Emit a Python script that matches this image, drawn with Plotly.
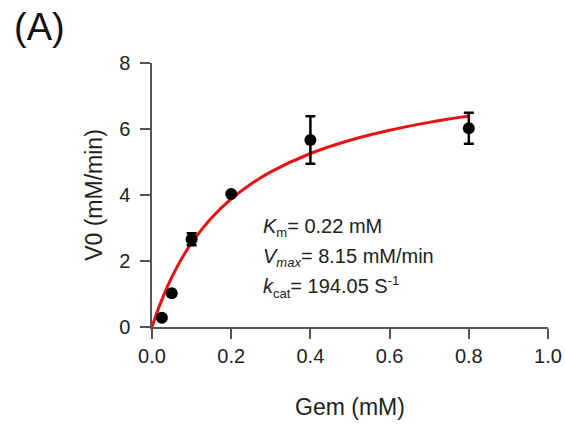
import plotly.graph_objects as go

# Measured data (Gem concentration, mM) vs initial velocity V0 (mM/min)
gem_mM = [0.025, 0.05, 0.1, 0.2, 0.4, 0.8]
v0 = [0.28, 1.02, 2.66, 4.03, 5.67, 6.02]
v0_err = [0.0, 0.0, 0.18, 0.0, 0.72, 0.47]

# Michaelis-Menten fit curve (Km = 0.22 mM, Vmax = 8.15 mM/min)
fit_x = [0, 0.01, 0.02, 0.04, 0.06, 0.08, 0.1, 0.15, 0.2, 0.25, 0.3, 0.4, 0.5, 0.6, 0.7, 0.8]
fit_y = [0, 0.354, 0.679, 1.254, 1.746, 2.173, 2.547, 3.304, 3.881, 4.335, 4.702,
         5.258, 5.660, 5.963, 6.201, 6.392]

x_ticks = [0.0, 0.2, 0.4, 0.6, 0.8, 1.0]
x_ticklabels = ["0.0", "0.2", "0.4", "0.6", "0.8", "1.0"]
y_ticks = [0, 2, 4, 6, 8]
y_ticklabels = ["0", "2", "4", "6", "8"]

FONT = "Liberation Sans, Arial, sans-serif"
AXIS_COLOR = "#555555"
PW, PH = 396, 264  # plot area size in px
L, T = 152, 63     # plot area top-left in px

fig = go.Figure()
fig.add_trace(go.Scatter(
    x=fit_x, y=fit_y, mode="lines", line=dict(color="rgb(236,16,16)", width=3, shape="spline"),
    hoverinfo="skip", showlegend=False))
fig.add_trace(go.Scatter(
    x=gem_mM, y=v0, mode="markers",
    marker=dict(color="black", size=12),
    error_y=dict(type="data", array=v0_err, visible=True, color="black", thickness=2.5, width=5),
    showlegend=False))

fig.update_layout(
    width=565, height=427,
    margin=dict(l=L, r=565 - L - PW, t=T, b=427 - T - PH),
    paper_bgcolor="white", plot_bgcolor="white",
    font=dict(family=FONT, size=20, color="#222222"),
    xaxis=dict(range=[0, 1], tickvals=x_ticks, ticktext=x_ticklabels, automargin=False,
               showgrid=False, zeroline=False, showline=True, linecolor=AXIS_COLOR, linewidth=1.5,
               ticks="outside", ticklen=10, tickwidth=1.5, tickcolor=AXIS_COLOR,
               title=dict(text="Gem (mM)", font=dict(size=23), standoff=33)),
    yaxis=dict(range=[0, 8], tickvals=y_ticks, ticktext=y_ticklabels, automargin=False,
               showgrid=False, zeroline=False, showline=True, linecolor=AXIS_COLOR, linewidth=1.5,
               ticks="outside", ticklen=10, tickwidth=1.5, tickcolor=AXIS_COLOR,
               ticklabelstandoff=6,
               title=dict(text="V0 (mM/min)", font=dict(size=23), standoff=10)),
)

# extension of x axis line to the left of the y axis
fig.add_shape(type="line", xref="paper", yref="paper", x0=-10/PW, x1=0, y0=0, y1=0,
              line=dict(color=AXIS_COLOR, width=1.5))

fig.add_annotation(text="(A)", xref="paper", yref="paper", x=(12 - L)/PW, y=(T + PH - 27)/PH,
                   xanchor="left", yanchor="middle", showarrow=False, font=dict(size=38, color="#111111"))

ann_font = dict(size=20, color="#222222")
SUB = '<span style="font-size:13px">{}</span>'
ax = (261 - L) / PW
fig.add_annotation(text="<i>K</i><sub>" + SUB.format("m") + "</sub>= 0.22 mM", xref="paper", yref="paper",
                   x=ax, y=(T + PH - 227)/PH, xanchor="left", yanchor="middle", showarrow=False, font=ann_font)
fig.add_annotation(text="<i>V</i><sub>" + SUB.format("<i>max</i>") + "</sub>= 8.15 mM/min", xref="paper", yref="paper",
                   x=ax, y=(T + PH - 257)/PH, xanchor="left", yanchor="middle", showarrow=False, font=ann_font)
fig.add_annotation(text="<i>k</i><sub>" + SUB.format("cat") + "</sub>= 194.05 S<sup>" + SUB.format("-1") + "</sup>",
                   xref="paper", yref="paper",
                   x=ax, y=(T + PH - 287)/PH, xanchor="left", yanchor="middle", showarrow=False, font=ann_font)

fig.write_html("out.html", config={"displayModeBar": False},
               post_script="document.body.style.margin='0';document.body.style.overflow='hidden';")
